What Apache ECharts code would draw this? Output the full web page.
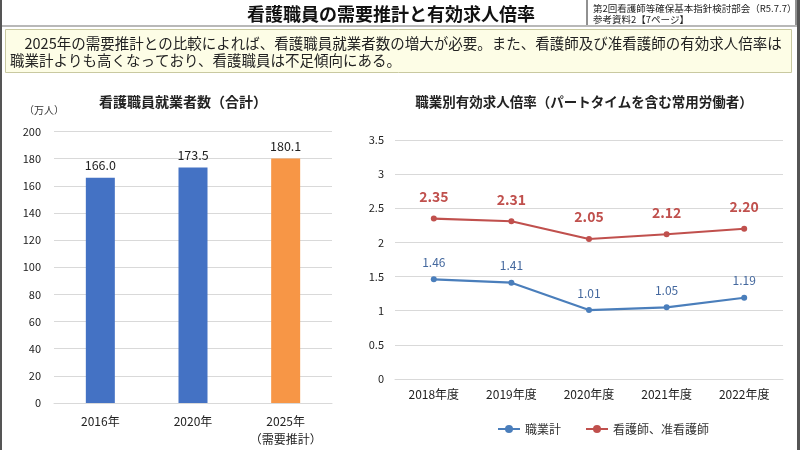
<!DOCTYPE html>
<html><head><meta charset="utf-8">
<script src="https://cdn.jsdelivr.net/npm/echarts@6/dist/echarts.min.js"></script>
<style>html,body{margin:0;padding:0;background:#fff}#c{width:800px;height:450px}</style>
</head><body><div id="c"></div>
<script>
const barCategories = ['2016年', '2020年', '2025年\n（需要推計）'];
const barValues = [166.0, 173.5, 180.1];
const barColors = ['#4472C4', '#4472C4', '#F79646'];
const barTicks = [0, 20, 40, 60, 80, 100, 120, 140, 160, 180, 200];

const lineCategories = ['2018年度', '2019年度', '2020年度', '2021年度', '2022年度'];
const allJobs = [1.46, 1.41, 1.01, 1.05, 1.19];
const nurses = [2.35, 2.31, 2.05, 2.12, 2.20];

const F = '"Noto Sans CJK JP", "Noto Sans", sans-serif';
const chart = echarts.init(document.getElementById('c'));
chart.setOption({
  backgroundColor: '#fff',
  animation: false,
  textStyle: { fontFamily: F },
  graphic: [
    { type: 'rect', shape: { x: 0, y: 0, width: 2, height: 450 }, style: { fill: '#555' } },
    { type: 'rect', shape: { x: 797, y: 0, width: 3, height: 450 }, style: { fill: '#555' } },
    { type: 'text', x: 391, y: 14, style: { text: '看護職員の需要推計と有効求人倍率', font: 'bold 18px ' + F, fill: '#111', align: 'center', verticalAlign: 'middle' } },
    { type: 'rect', shape: { x: 587, y: -1, width: 209, height: 27 }, style: { fill: '#fff', stroke: '#222', lineWidth: 1 } },
    { type: 'text', x: 593, y: 8, style: { text: '第2回看護師等確保基本指針検討部会（R5.7.7）', font: '9.5px ' + F, fill: '#222', verticalAlign: 'middle' } },
    { type: 'text', x: 593, y: 19, style: { text: '参考資料2【7ページ】', font: '9.5px ' + F, fill: '#222', verticalAlign: 'middle' } },
    { type: 'rect', shape: { x: 2, y: 25, width: 795, height: 2 }, style: { fill: '#b8b8b8' } },
    { type: 'rect', shape: { x: 5.5, y: 29.5, width: 786, height: 43 }, style: { fill: '#FDFDE6', stroke: '#C9C9A0', lineWidth: 1 } },
    { type: 'text', x: 10, y: 43, style: { text: '\u30002025年の需要推計との比較によれば、看護職員就業者数の増大が必要。また、看護師及び准看護師の有効求人倍率は', font: '14.5px ' + F, fill: '#222', verticalAlign: 'middle' } },
    { type: 'text', x: 10, y: 60, style: { text: '職業計よりも高くなっており、看護職員は不足傾向にある。', font: '14.5px ' + F, fill: '#222', verticalAlign: 'middle' } },
    { type: 'text', x: 183, y: 102, style: { text: '看護職員就業者数（合計）', font: 'bold 14px ' + F, fill: '#222', align: 'center', verticalAlign: 'middle' } },
    { type: 'text', x: 44, y: 110, style: { text: '（万人）', font: '10px ' + F, fill: '#333', align: 'center', verticalAlign: 'middle' } },
    { type: 'text', x: 584, y: 102, style: { text: '職業別有効求人倍率（パートタイムを含む常用労働者）', font: 'bold 13.5px ' + F, fill: '#222', align: 'center', verticalAlign: 'middle' } }
  ],
  legend: {
    data: ['職業計', '看護師、准看護師'],
    left: 492, top: 418,
    itemWidth: 22, itemHeight: 10, itemGap: 24,
    textStyle: { fontSize: 12, color: '#333', fontFamily: F }
  },
  grid: [
    { left: 54, right: 468, top: 131.5, bottom: 47 },
    { left: 395, right: 17, top: 140, bottom: 71 }
  ],
  xAxis: [
    { type: 'category', gridIndex: 0, data: barCategories,
      axisLine: { lineStyle: { color: '#d9d9d9' } }, axisTick: { show: false },
      axisLabel: { interval: 0, color: '#222', fontSize: 12, margin: 9, lineHeight: 18, fontFamily: F } },
    { type: 'category', gridIndex: 1, data: lineCategories,
      axisLine: { lineStyle: { color: '#d9d9d9' } }, axisTick: { show: false },
      axisLabel: { interval: 0, color: '#222', fontSize: 12, margin: 9, fontFamily: F } }
  ],
  yAxis: [
    { type: 'value', gridIndex: 0, min: 0, max: 200, interval: 20,
      axisLine: { show: false }, axisTick: { show: false },
      splitLine: { lineStyle: { color: '#d9d9d9' } },
      axisLabel: { color: '#222', fontSize: 11, margin: 13, fontFamily: F,
        formatter: v => barTicks.includes(v) ? String(v) : '' } },
    { type: 'value', gridIndex: 1, min: 0, max: 3.5, interval: 0.5,
      axisLine: { show: false }, axisTick: { show: false },
      splitLine: { lineStyle: { color: '#d9d9d9' } },
      axisLabel: { color: '#222', fontSize: 11, margin: 11, fontFamily: F } }
  ],
  series: [
    { type: 'bar', xAxisIndex: 0, yAxisIndex: 0, barWidth: 29,
      data: barValues.map((v, i) => ({ value: v, itemStyle: { color: barColors[i] } })),
      label: { show: true, position: 'top', distance: 6, color: '#222', fontSize: 12.5, fontFamily: F,
        formatter: p => p.value.toFixed(1) } },
    { type: 'line', name: '職業計', xAxisIndex: 1, yAxisIndex: 1, data: allJobs,
      symbol: 'circle', symbolSize: 6,
      lineStyle: { color: '#4A7EBB', width: 2.2 }, itemStyle: { color: '#4A7EBB' },
      label: { show: true, position: 'top', distance: 8, color: '#44689E', fontSize: 12, fontFamily: F,
        formatter: p => p.value.toFixed(2) } },
    { type: 'line', name: '看護師、准看護師', xAxisIndex: 1, yAxisIndex: 1, data: nurses,
      symbol: 'circle', symbolSize: 6,
      lineStyle: { color: '#C0504D', width: 2.2 }, itemStyle: { color: '#C0504D' },
      label: { show: true, position: 'top', distance: 12, color: '#C0504D', fontSize: 14, fontWeight: 'bold', fontFamily: F,
        formatter: p => p.value.toFixed(2) } }
  ]
});
</script></body></html>
